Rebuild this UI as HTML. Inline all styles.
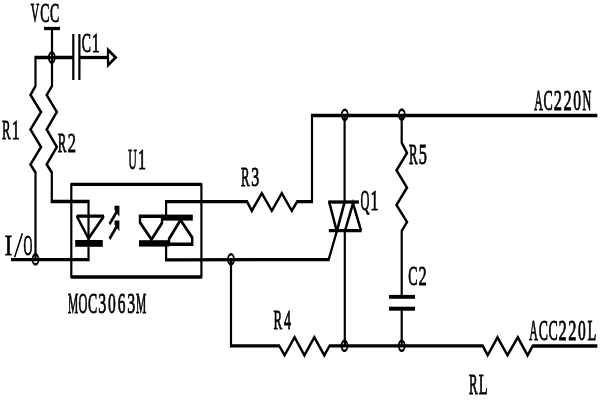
<!DOCTYPE html>
<html><head><meta charset="utf-8"><style>
html,body{margin:0;padding:0;background:#fff;width:600px;height:400px;overflow:hidden}
svg{display:block}
</style></head><body>
<svg width="600" height="400" viewBox="0 0 600 400">
<rect width="600" height="400" fill="#fff"/>
<g transform="scale(1,1.5)">
<line x1="44" y1="19.00" x2="60" y2="19.00" stroke="#000" stroke-width="2.2"/>
<line x1="52" y1="19.00" x2="52" y2="38.33" stroke="#000" stroke-width="2.2"/>
<polyline points="73.30,38.33 35.50,38.33 35.50,57.33 30.50,63.33 41.00,74.67 30.50,86.33 41.00,98.00 30.50,109.67 35.50,115.00 35.50,173.00" fill="none" stroke="#000" stroke-width="2.2" stroke-linejoin="miter" stroke-miterlimit="10"/>
<polyline points="52.00,38.33 52.00,57.33 46.70,63.33 56.80,74.67 46.70,86.33 56.80,98.00 46.70,109.67 51.80,115.00 51.80,134.33 88.50,134.33 88.50,144.00" fill="none" stroke="#000" stroke-width="2.2" stroke-linejoin="miter" stroke-miterlimit="10"/>
<line x1="73.3" y1="22.67" x2="73.3" y2="53.33" stroke="#000" stroke-width="2.2"/>
<line x1="79.4" y1="22.67" x2="79.4" y2="53.33" stroke="#000" stroke-width="2.2"/>
<line x1="79.4" y1="38.33" x2="108" y2="38.33" stroke="#000" stroke-width="2.2"/>
<polygon points="108.00,33.20 115.60,38.33 108.00,43.47" fill="none" stroke="#000" stroke-width="2.2" stroke-linejoin="miter" stroke-miterlimit="10"/>
<ellipse cx="51.8" cy="38.33" rx="3.0" ry="3.33" fill="none" stroke="#000" stroke-width="1.7"/>
<polyline points="11.00,173.07 88.50,173.07 88.50,164.67" fill="none" stroke="#000" stroke-width="2.2" stroke-linejoin="miter" stroke-miterlimit="10"/>
<ellipse cx="35.5" cy="172.93" rx="3.0" ry="3.33" fill="none" stroke="#000" stroke-width="1.7"/>
<polygon points="71.30,122.87 201.40,122.87 201.40,184.67 71.30,184.67" fill="none" stroke="#000" stroke-width="2.2" stroke-linejoin="round" stroke-miterlimit="10"/>
<polygon points="76.80,144.13 103.80,144.13 88.50,159.00" fill="none" stroke="#000" stroke-width="2.2" stroke-linejoin="bevel" stroke-miterlimit="10"/>
<line x1="88.5" y1="144.00" x2="88.5" y2="160.00" stroke="#000" stroke-width="2.2"/>
<rect x="75.2" y="160.00" width="27.60" height="4.53" fill="#000"/>
<line x1="109.5" y1="149.47" x2="117.5" y2="140.33" stroke="#000" stroke-width="2.3"/>
<polygon points="114.50,137.20 119.40,137.20 119.40,144.53 114.50,139.87" fill="#000"/>
<line x1="109.5" y1="159.20" x2="117.5" y2="150.00" stroke="#000" stroke-width="2.3"/>
<polygon points="114.50,146.93 119.40,146.93 119.40,154.13 114.50,149.60" fill="#000"/>
<polyline points="166.10,146.00 166.10,134.47 247.10,134.47 251.80,140.53 261.80,128.80 271.80,140.53 281.80,128.80 291.80,140.53 297.10,134.47 312.00,134.47 312.00,77.00 597.30,77.00" fill="none" stroke="#000" stroke-width="2.2" stroke-linejoin="miter" stroke-miterlimit="10"/>
<polyline points="166.10,162.00 166.10,173.20 328.70,173.00 337.00,153.73" fill="none" stroke="#000" stroke-width="2.2" stroke-linejoin="miter" stroke-miterlimit="10"/>
<line x1="337" y1="153.73" x2="344.6" y2="134.67" stroke="#000" stroke-width="2.5"/>
<polygon points="140.00,144.13 162.00,144.13 162.00,148.67 151.50,159.67 140.00,148.33" fill="none" stroke="#000" stroke-width="2.4" stroke-linejoin="miter" stroke-miterlimit="10"/>
<rect x="162" y="143.07" width="30.80" height="4.00" fill="#000"/>
<rect x="139" y="160.13" width="30.00" height="4.27" fill="#000"/>
<polygon points="169.00,162.87 192.20,162.87 192.20,158.33 180.50,146.67 169.00,159.33" fill="none" stroke="#000" stroke-width="2.4" stroke-linejoin="miter" stroke-miterlimit="10"/>
<ellipse cx="231" cy="172.87" rx="3.0" ry="3.33" fill="none" stroke="#000" stroke-width="1.7"/>
<polyline points="231.00,173.07 231.00,230.53 279.20,230.53 284.60,236.87 294.60,224.87 304.40,236.87 314.30,224.87 324.30,236.87 329.60,230.53 482.80,230.60 487.70,236.80 497.50,224.93 507.50,236.80 517.80,224.93 527.60,236.87 532.70,230.67 597.30,230.67" fill="none" stroke="#000" stroke-width="2.2" stroke-linejoin="miter" stroke-miterlimit="10"/>
<line x1="344.6" y1="77.00" x2="344.6" y2="134.67" stroke="#000" stroke-width="2.2"/>
<line x1="344.8" y1="153.73" x2="344.8" y2="230.53" stroke="#000" stroke-width="2.2"/>
<ellipse cx="344.8" cy="76.53" rx="3.0" ry="3.33" fill="none" stroke="#000" stroke-width="1.7"/>
<ellipse cx="344.5" cy="230.53" rx="3.0" ry="3.33" fill="none" stroke="#000" stroke-width="1.7"/>
<line x1="328.2" y1="134.67" x2="358.9" y2="134.67" stroke="#000" stroke-width="2.2"/>
<line x1="328.8" y1="153.73" x2="361.6" y2="153.73" stroke="#000" stroke-width="2.2"/>
<line x1="329.2" y1="134.67" x2="336.6" y2="153.73" stroke="#000" stroke-width="2.4"/>
<polyline points="345.10,153.73 353.00,135.53 361.00,153.73" fill="none" stroke="#000" stroke-width="2.4" stroke-linejoin="miter" stroke-miterlimit="10"/>
<polyline points="401.70,77.00 401.70,95.13 407.00,102.00 396.50,113.53 407.00,125.13 396.50,136.67 407.00,148.00 401.70,154.00 401.70,197.87" fill="none" stroke="#000" stroke-width="2.2" stroke-linejoin="miter" stroke-miterlimit="10"/>
<ellipse cx="401.8" cy="76.40" rx="3.0" ry="3.33" fill="none" stroke="#000" stroke-width="1.7"/>
<rect x="389" y="196.60" width="26.00" height="2.60" fill="#000"/>
<rect x="389" y="204.47" width="26.00" height="2.67" fill="#000"/>
<line x1="401.7" y1="206.00" x2="401.7" y2="230.53" stroke="#000" stroke-width="2.2"/>
<ellipse cx="401.7" cy="230.53" rx="3.0" ry="3.33" fill="none" stroke="#000" stroke-width="1.7"/>
</g>
<g fill="#000" stroke="#000" stroke-width="0.7" font-family="Liberation Serif" font-size="100" style="will-change:transform">
<text transform="translate(30.82,21.65) scale(0.11691,0.27490)" vector-effect="non-scaling-stroke">V</text>
<text transform="translate(40.21,21.65) scale(0.13805,0.27490)" vector-effect="non-scaling-stroke">C</text>
<text transform="translate(49.89,21.65) scale(0.13805,0.27490)" vector-effect="non-scaling-stroke">C</text>
<text transform="translate(81.83,51.65) scale(0.13805,0.28254)" vector-effect="non-scaling-stroke">C</text>
<text transform="translate(91.84,51.65) scale(0.15850,0.28254)" vector-effect="non-scaling-stroke">1</text>
<text transform="translate(1.88,138.65) scale(0.12847,0.28254)" vector-effect="non-scaling-stroke">R</text>
<text transform="translate(11.84,138.65) scale(0.15850,0.28254)" vector-effect="non-scaling-stroke">1</text>
<text transform="translate(57.68,152.35) scale(0.12847,0.27184)" vector-effect="non-scaling-stroke">R</text>
<text transform="translate(67.81,152.35) scale(0.16414,0.27184)" vector-effect="non-scaling-stroke">2</text>
<text transform="translate(128.25,168.65) scale(0.11879,0.29170)" vector-effect="non-scaling-stroke">U</text>
<text transform="translate(138.04,168.65) scale(0.15850,0.29170)" vector-effect="non-scaling-stroke">1</text>
<text transform="translate(4.85,254.65) scale(0.22085,0.28712)" vector-effect="non-scaling-stroke">I</text>
<text transform="translate(23.46,254.65) scale(0.12310,0.28712)" vector-effect="non-scaling-stroke">O</text>
<text transform="translate(68.12,312.65) scale(0.11528,0.28712)" vector-effect="non-scaling-stroke">M</text>
<text transform="translate(78.48,312.65) scale(0.12310,0.28712)" vector-effect="non-scaling-stroke">O</text>
<text transform="translate(88.09,312.65) scale(0.13805,0.28712)" vector-effect="non-scaling-stroke">C</text>
<text transform="translate(98.23,312.65) scale(0.15929,0.28712)" vector-effect="non-scaling-stroke">3</text>
<text transform="translate(108.08,312.65) scale(0.15525,0.28712)" vector-effect="non-scaling-stroke">0</text>
<text transform="translate(117.69,312.65) scale(0.15401,0.28712)" vector-effect="non-scaling-stroke">6</text>
<text transform="translate(127.27,312.65) scale(0.15929,0.28712)" vector-effect="non-scaling-stroke">3</text>
<text transform="translate(135.88,312.65) scale(0.11528,0.28712)" vector-effect="non-scaling-stroke">M</text>
<text transform="translate(241.08,186.35) scale(0.12847,0.28101)" vector-effect="non-scaling-stroke">R</text>
<text transform="translate(251.17,186.35) scale(0.15929,0.28101)" vector-effect="non-scaling-stroke">3</text>
<text transform="translate(360.44,209.65) scale(0.12318,0.28559)" vector-effect="non-scaling-stroke">Q</text>
<text transform="translate(370.54,209.65) scale(0.15850,0.28559)" vector-effect="non-scaling-stroke">1</text>
<text transform="translate(408.88,164.15) scale(0.12847,0.28406)" vector-effect="non-scaling-stroke">R</text>
<text transform="translate(418.78,164.15) scale(0.16334,0.28406)" vector-effect="non-scaling-stroke">5</text>
<text transform="translate(408.33,285.25) scale(0.13805,0.28101)" vector-effect="non-scaling-stroke">C</text>
<text transform="translate(418.51,285.25) scale(0.16414,0.28101)" vector-effect="non-scaling-stroke">2</text>
<text transform="translate(273.38,329.35) scale(0.12847,0.27795)" vector-effect="non-scaling-stroke">R</text>
<text transform="translate(283.95,329.35) scale(0.14155,0.27795)" vector-effect="non-scaling-stroke">4</text>
<text transform="translate(534.13,110.35) scale(0.11885,0.28712)" vector-effect="non-scaling-stroke">A</text>
<text transform="translate(543.61,110.35) scale(0.13805,0.28712)" vector-effect="non-scaling-stroke">C</text>
<text transform="translate(553.79,110.35) scale(0.16414,0.28712)" vector-effect="non-scaling-stroke">2</text>
<text transform="translate(563.47,110.35) scale(0.16414,0.28712)" vector-effect="non-scaling-stroke">2</text>
<text transform="translate(573.28,110.35) scale(0.15525,0.28712)" vector-effect="non-scaling-stroke">0</text>
<text transform="translate(582.40,110.35) scale(0.12201,0.28712)" vector-effect="non-scaling-stroke">N</text>
<text transform="translate(529.23,340.35) scale(0.11885,0.28406)" vector-effect="non-scaling-stroke">A</text>
<text transform="translate(538.71,340.35) scale(0.13805,0.28406)" vector-effect="non-scaling-stroke">C</text>
<text transform="translate(548.39,340.35) scale(0.13805,0.28406)" vector-effect="non-scaling-stroke">C</text>
<text transform="translate(558.57,340.35) scale(0.16414,0.28406)" vector-effect="non-scaling-stroke">2</text>
<text transform="translate(568.25,340.35) scale(0.16414,0.28406)" vector-effect="non-scaling-stroke">2</text>
<text transform="translate(578.06,340.35) scale(0.15525,0.28406)" vector-effect="non-scaling-stroke">0</text>
<text transform="translate(587.41,340.35) scale(0.14522,0.28406)" vector-effect="non-scaling-stroke">L</text>
<text transform="translate(468.88,393.55) scale(0.12847,0.28712)" vector-effect="non-scaling-stroke">R</text>
<text transform="translate(478.81,393.55) scale(0.14522,0.28712)" vector-effect="non-scaling-stroke">L</text>
</g>
<line x1="14.6" y1="257.3" x2="22.4" y2="233.2" stroke="#000" stroke-width="1.5"/>
</svg>
</body></html>
